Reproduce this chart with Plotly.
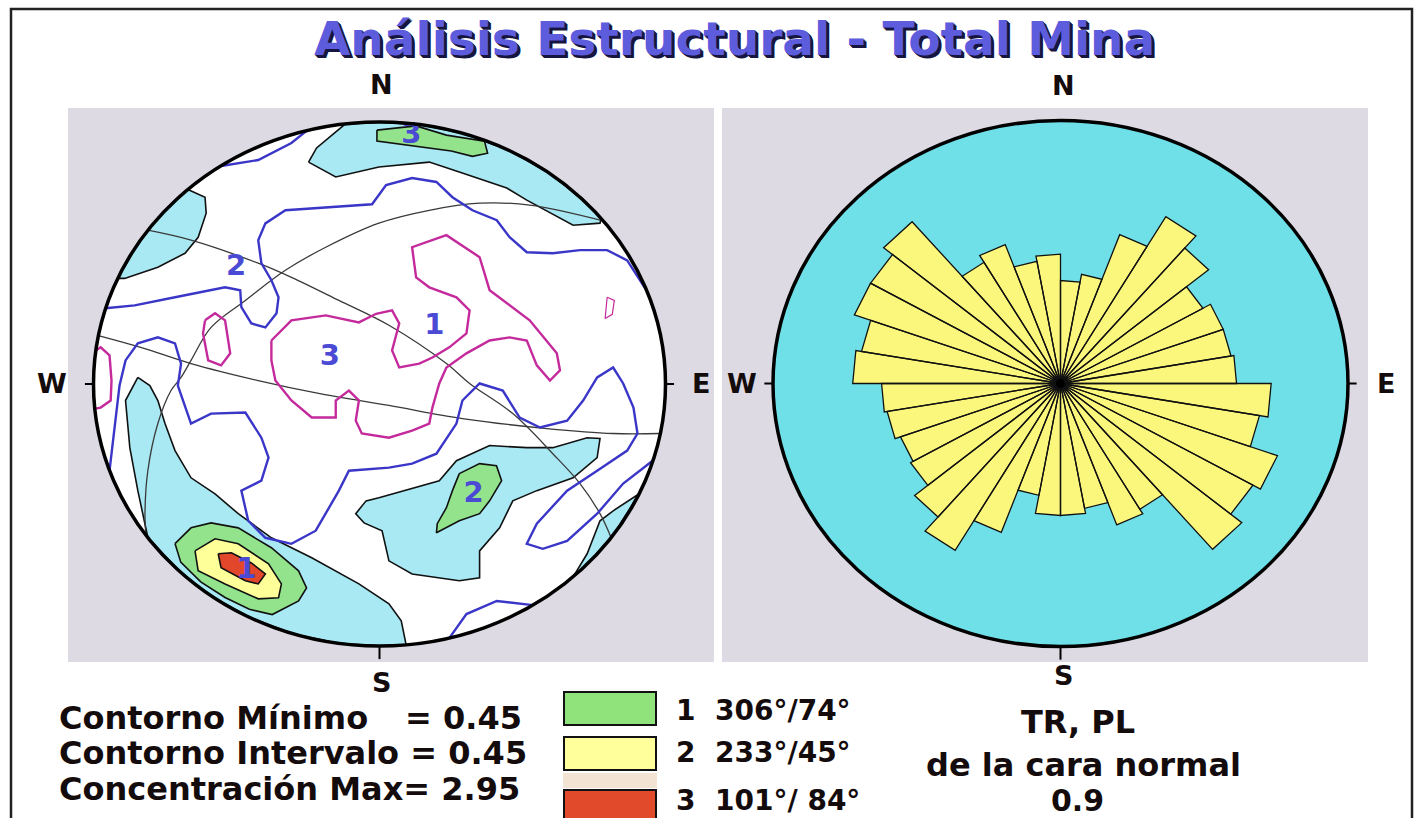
import math
import plotly.graph_objects as go

W, H = 1416, 818
FONT = "DejaVu Sans"

# ---------------- data ----------------
# Rose diagram: relative frequency of each 10-degree azimuth bin (outer ring = 1.0)
ROSE_BIN_START = list(range(0, 360, 10))
ROSE_FREQ = [0.39, 0.42, 0.60, 0.73, 0.67, 0.57, 0.60, 0.60, 0.61,
             0.73, 0.70, 0.80, 0.77, 0.82, 0.55, 0.57, 0.48, 0.50,
             0.50, 0.43, 0.60, 0.73, 0.66, 0.60, 0.59, 0.61, 0.62,
             0.72, 0.70, 0.76, 0.76, 0.80, 0.53, 0.56, 0.47, 0.49]

# Pole density contours on the net, in percent of the net radius (x east, y north)
CONTOUR_LOW = [  # lowest filled level
    [(-24.8, 84.7), (-22.0, 90.1), (-12.0, 99.2), (0, 100), (15, 98.9), (30, 95.4),
     (45, 89.3), (60, 80), (72, 69.4), (77.5, 63.2), (77.1, 61.4), (67.7, 60.6),
     (51.5, 70.2), (44.5, 74.8), (27.9, 80.9), (17.4, 84.7), (-0.2, 82.8), (-15.3, 79)],
    [(-67, 74.2), (-61, 71.3), (-60.6, 65.2), (-63.4, 56), (-68, 49.9), (-77.5, 44.6),
     (-89.1, 40.3), (-91.5, 40.3), (-85, 52.7), (-78, 62.6), (-72, 69.4)],
    [(-84.5, 2.5), (-80.3, -0.6), (-77.5, -6.3), (-75, -15.1), (-71.5, -25.4),
     (-65.9, -35.8), (-57.5, -41.9), (-49.4, -49.5), (-37.8, -58.7), (-23.7, -66.3),
     (-7.2, -76.3), (3.3, -83.9), (7.6, -90.4), (9.3, -99.5), (0, -100), (-15, -98.9),
     (-30, -95.4), (-45, -89.3), (-58, -81.5), (-70, -71.4), (-81, -58.6),
     (-84.5, -40.7), (-87.3, -24.3), (-88.8, -6.3)],
    [(-0.2, -43.4), (20.9, -36.9), (26.9, -29.3), (38.5, -23.5), (51.5, -24.3),
     (60.6, -24.3), (72.6, -20.5), (77.1, -20.8), (76.1, -28.1), (67.7, -35.8),
     (55, -40.7), (46.6, -44.6), (42, -54.9), (35, -63.7), (35, -74), (27.9, -75.1),
     (11.4, -72.5), (3.3, -67.5), (0.9, -56), (-5.4, -53), (-8.3, -49.5), (-4.7, -44.6)],
    [(90.8, -41.9), (81.7, -48.4), (77.1, -52.2), (72.6, -64.8), (67.7, -73.6),
     (75, -66.1), (82, -57.2)],
]
CONTOUR_MID = [
    [(-0.9, 96.9), (12.8, 98.5), (23.4, 95), (36.7, 92.7), (37.8, 88.1), (32.5, 86.9),
     (25.1, 88.9), (14.9, 90.4), (5.8, 92), (-0.9, 92.7)],
    [(27.9, -34.2), (35, -30.4), (40.9, -31.2), (42.7, -36.9), (38.5, -44.6),
     (35, -49.5), (27.9, -52.2), (19.9, -56.8), (20.2, -53.3), (23.4, -47.2), (25.5, -40.7)],
    [(-71.5, -60.9), (-65.9, -54.9), (-58.9, -53), (-49.4, -54.9), (-37.8, -62.5),
     (-28.3, -71.3), (-25.5, -77.8), (-28.3, -82.8), (-37.5, -88), (-45.5, -86),
     (-54, -81.5), (-62.5, -75.5), (-69.5, -68)],
]
CONTOUR_HIGH = [
    [(-64.5, -63.7), (-57.5, -59.1), (-49.4, -61), (-38.8, -68.6), (-34.3, -76.3),
     (-35.3, -81.6), (-42.4, -82), (-54, -76.3), (-63.4, -71.3)],
]
CONTOUR_MAX = [
    [(-56.4, -64.8), (-51.8, -64.4), (-44.8, -68.3), (-39.9, -72.5), (-42.4, -76.3),
     (-46.9, -75.1), (-55.4, -70.1)],
]
# open contour lines
BLUE_LINES = [
    [(-55.4, 83.2), (-42.4, 85.5), (-30.8, 92), (-25.5, 96.6)],
    [(-95.8, 28.9), (-85.6, 30), (-71.5, 33.1), (-54, 36.9), (-48.7, 35.8), (-48.3, 29.3),
     (-44.8, 23.1), (-39.9, 21.6), (-36, 27), (-35.3, 33.1), (-37.8, 39.6), (-41.3, 46.1),
     (-42.4, 54.9), (-39.9, 61.3), (-32.9, 66.3), (-18.8, 67.5), (-2.6, 68.6), (2.3, 75.9),
     (11.4, 78.6), (19.9, 77.1), (25.5, 71.3), (32.5, 66.3), (41, 62.5), (45.5, 56),
     (51.5, 50.3), (60.6, 49.9), (70.1, 51.1), (79.6, 51.1), (86.6, 47.2), (93.3, 35.8)],
    [(-94.4, -33.1), (-92.3, -14), (-90.9, -0.6), (-88.8, 9), (-84.5, 15.5), (-77.5, 17.8),
     (-71.5, 15.5), (-69.4, 7.8), (-70.5, -0.6), (-65.9, -15.1), (-58.9, -11.3),
     (-46.9, -10.9), (-41.3, -20.5), (-38.8, -28.1), (-41.3, -36.9), (-48.3, -40.7),
     (-45.9, -52.2), (-39.9, -58.7), (-30.8, -61), (-22.3, -56), (-14.2, -40.7),
     (-10.7, -33.1), (3.3, -31.9), (11.4, -30.4), (19.9, -26.6), (26.9, -15.1),
     (29, -6.3), (35, 0.2), (43.1, -2.5), (49, -12.8), (56.1, -16.6), (65.6, -14),
     (71.2, -6.3), (76.1, 2.5), (81.7, 6.3), (85.2, 0.2), (88.8, -9), (90.2, -18.9),
     (86.6, -25.4), (76.1, -33.1), (65.6, -40.7), (55, -53.3), (51.5, -61), (57.1, -62.9),
     (65.6, -59.9), (76.1, -49.5), (85.2, -38), (95.5, -29.3)],
    [(24.4, -97), (30.4, -87.8), (41, -82.8), (53.6, -84.4)],
]
MAGENTA_LINES = [
    [(-99.2, 12.8), (-97.5, 14), (-94.4, 10.9), (-93.7, 1.3), (-94, -6.3), (-97.5, -9),
     (-99.3, -9.4)],
    [(-61, 24.3), (-57.5, 27), (-54, 24.3), (-52.2, 11.7), (-55.4, 7.1), (-59.9, 9),
     (-61.7, 19.3), (-61, 24.3)],
    [(-37.8, 16.6), (-30.8, 24.3), (-18.8, 26.2), (-7.2, 23.5), (-1.2, 26.8), (4.4, 28.1),
     (6.9, 23.1), (4.4, 12.8), (6.9, 6.3), (13.9, 7.8), (18.5, 10.1), (24.4, 14),
     (30.4, 19.3), (31.5, 28.1), (26.9, 33.1), (17.4, 36.9), (12.8, 40.7), (11.4, 52.2),
     (23.4, 56.8), (35, 48.4), (38.5, 35.8), (52.5, 24.3), (62, 11.7), (63.1, 5.2),
     (59.6, 1.3), (55, 7.1), (51.5, 16.6), (45.5, 17.8), (38.5, 16.6), (30.4, 11.7),
     (23.4, 6.3), (20.9, 0.2), (18.5, -9), (17.4, -15.1), (11.4, -17.8), (3.3, -20.5),
     (-6.2, -18.9), (-8.3, -14), (-7.2, -6.3), (-10.7, -2.5), (-15.3, -6.3),
     (-15.3, -12.8), (-23.7, -12.8), (-30.8, -6.3), (-36.4, 1.3), (-37.8, 9), (-37.8, 16.6)],
    [(79.6, 33.1), (82.1, 31.9), (81.4, 26.6), (78.9, 25), (79.6, 33.1)],
]
# great circles of the principal sets
GREAT_CIRCLES = [
    [(-81, 58.7), (-65.9, 54.9), (-42.4, 46.1), (-30.8, 40.7), (-14.2, 31.9), (3.3, 22.4),
     (23.4, 7.8), (31.5, 0.2), (46.6, -11.3), (60.6, -26.6), (70.1, -38), (77.1, -49.5),
     (81, -58.7)],
    [(-98.3, 18.5), (-83.5, 14), (-65.9, 7.8), (-42.4, 1.3), (-21.3, -3.6), (3.3, -8.2),
     (29, -13.2), (58.5, -17), (81.7, -18.9), (98.2, -18.9)],
    [(78.2, 62.3), (52.5, 68.3), (35, 69), (17.4, 66.3), (-0.2, 61.4), (-18.8, 52.2),
     (-32.9, 43.4), (-46.9, 31.9), (-58.9, 21.6), (-65.9, 9), (-69.4, 2.5), (-72.9, -2.5),
     (-77.5, -15.1), (-81, -33.1), (-82, -49.5), (-81.7, -57.2)],
]
# contour / set labels on the net
NET_LABELS = [(11.1, 94.6, "3"), (-50.1, 44.2, "2"), (19.2, 22.0, "1"),
              (-17.4, 10.1, "3"), (32.9, -42.3, "2"), (-46.6, -71.3, "1")]

STATS = ["Contorno Mínimo", "Contorno Intervalo = 0.45", "Concentración Max= 2.95"]
SETS = ["1\u00a0\u00a0306°/74°", "2\u00a0\u00a0233°/45°", "3\u00a0\u00a0101°/ 84°"]
SET_COLORS = ["#8fe37a", "#ffff9c", "#e24a2c"]

# ---------------- colours ----------------
PANEL = "#dddae3"
LOW_C, MID_C, HIGH_C, MAX_C = "#a8e9f4", "#93e38d", "#ffff99", "#e2472b"
BLUE, MAGENTA, GC = "#3a36c8", "#c42a9c", "#3a3a3a"
LABEL_BLUE = "#4a4ad4"
ROSE_BG, ROSE_FILL = "#6fe0e8", "#fbf77c"

# panel geometry (pixels of the page)
L_PANEL = (68, 714, 108, 662)
R_PANEL = (722, 1368, 108, 662)
L_C, L_R = (379.5, 384.0), (286.0, 262.0)
R_C, R_R = (1060.5, 383.5), (287.5, 263.0)


def rng(panel, c, r):
    x0, x1, y0, y1 = panel
    return ([(x0 - c[0]) / r[0], (x1 - c[0]) / r[0]],
            [(c[1] - y1) / r[1], (c[1] - y0) / r[1]])


def dom(panel):
    x0, x1, y0, y1 = panel
    return [x0 / W, x1 / W], [1 - y1 / H, 1 - y0 / H]


def xs_ys(poly, close=False):
    pts = list(poly) + ([poly[0]] if close else [])
    return [p[0] / 100 for p in pts], [p[1] / 100 for p in pts]


fig = go.Figure()

# ---- left: density contours ----
for polys, col in [(CONTOUR_LOW, LOW_C), (CONTOUR_MID, MID_C),
                   (CONTOUR_HIGH, HIGH_C), (CONTOUR_MAX, MAX_C)]:
    for poly in polys:
        x, y = xs_ys(poly, close=True)
        fig.add_trace(go.Scatter(x=x, y=y, mode="lines", fill="toself", fillcolor=col,
                                 line=dict(color="#111111", width=1.6),
                                 hoverinfo="skip", xaxis="x", yaxis="y"))
for line in GREAT_CIRCLES:
    x, y = xs_ys(line)
    fig.add_trace(go.Scatter(x=x, y=y, mode="lines", line=dict(color=GC, width=1.3, shape="spline"),
                             hoverinfo="skip", xaxis="x", yaxis="y"))
for line in BLUE_LINES:
    x, y = xs_ys(line)
    fig.add_trace(go.Scatter(x=x, y=y, mode="lines", line=dict(color=BLUE, width=2.4),
                             hoverinfo="skip", xaxis="x", yaxis="y"))
for line in MAGENTA_LINES:
    x, y = xs_ys(line)
    fig.add_trace(go.Scatter(x=x, y=y, mode="lines",
                             line=dict(color=MAGENTA, width=2.4 if len(line) > 5 else 1.2),
                             hoverinfo="skip", xaxis="x", yaxis="y"))
fig.add_trace(go.Scatter(
    x=[l[0] / 100 for l in NET_LABELS], y=[l[1] / 100 for l in NET_LABELS],
    text=["<b>%s</b>" % l[2] for l in NET_LABELS], mode="text",
    textfont=dict(family=FONT, size=29, color=LABEL_BLUE), hoverinfo="skip",
    xaxis="x", yaxis="y"))

# ---- right: rose diagram ----
px, py = [], []
for a0, f in zip(ROSE_BIN_START, ROSE_FREQ):
    r = f / math.cos(math.radians(5))
    px.append(0.0)
    py.append(0.0)
    for a in (a0, a0 + 10):
        px.append(r * math.sin(math.radians(a)))
        py.append(r * math.cos(math.radians(a)))
    px += [0.0, None]
    py += [0.0, None]
fig.add_trace(go.Scatter(x=px, y=py, mode="lines", fill="toself", fillcolor=ROSE_FILL,
                         line=dict(color="#111111", width=1.3), hoverinfo="skip",
                         xaxis="x2", yaxis="y2"))
fig.add_trace(go.Scatter(x=[0], y=[0], mode="markers", marker=dict(color="black", size=9),
                         hoverinfo="skip", xaxis="x2", yaxis="y2"))

shapes = []
# net discs and rims
shapes.append(dict(type="circle", xref="x", yref="y", x0=-1, x1=1, y0=-1, y1=1,
                   fillcolor="white", line=dict(width=0), layer="below"))
shapes.append(dict(type="circle", xref="x", yref="y", x0=-1, x1=1, y0=-1, y1=1,
                   line=dict(color="black", width=3.5), layer="above"))
shapes.append(dict(type="circle", xref="x2", yref="y2", x0=-1, x1=1, y0=-1, y1=1,
                   fillcolor=ROSE_BG, line=dict(width=0), layer="below"))
shapes.append(dict(type="circle", xref="x2", yref="y2", x0=-1, x1=1, y0=-1, y1=1,
                   line=dict(color="black", width=3.5), layer="above"))
# cardinal ticks
for xr, yr in (("x", "y"), ("x2", "y2")):
    shapes += [
        dict(type="line", xref=xr, yref=yr, x0=1, x1=1.03, y0=0, y1=0,
             line=dict(color="black", width=2)),
        dict(type="line", xref=xr, yref=yr, x0=-1, x1=-1.03, y0=0, y1=0,
             line=dict(color="black", width=2)),
        dict(type="line", xref=xr, yref=yr, x0=0, x1=0, y0=-1, y1=-1.05,
             line=dict(color="black", width=2)),
    ]
# outer frame
shapes.append(dict(type="rect", xref="paper", yref="paper", x0=11 / W, x1=1412 / W,
                   y0=-0.05, y1=1 - 9 / H, line=dict(color="#222222", width=2.5)))
# set legend boxes
box_y = [(692, 725), (737, 770), (790, 822)]
shapes.append(dict(type="rect", xref="paper", yref="paper", x0=563 / W, x1=657 / W,
                   y0=1 - 788 / H, y1=1 - 773 / H, fillcolor="#f2e3d2", line=dict(width=0)))
for (y0, y1), col in zip(box_y, SET_COLORS):
    shapes.append(dict(type="rect", xref="paper", yref="paper", x0=564 / W, x1=656 / W,
                       y0=1 - y1 / H, y1=1 - y0 / H, fillcolor=col,
                       line=dict(color="#111111", width=2)))

ann = []


def text(x, y, s, size, color="#140c0c", xanchor="center", shadow=None):
    font = dict(family=FONT, size=size, color=color)
    if shadow:
        font["shadow"] = shadow
    ann.append(dict(x=x / W, y=1 - y / H, xref="paper", yref="paper", text=s,
                    showarrow=False, xanchor=xanchor, yanchor="middle", font=font))


# title with drop shadow
text(734, 38, "<b>Análisis Estructural - Total Mina</b>", 47, color="#5c5cdc",
     shadow="1px 1px 0px #15153f, 2px 2px 0px #15153f, 3px 3px 0px #15153f")

for (x, y, s) in [(381, 84, "N"), (381, 682, "S"), (52, 383, "W"), (701, 383, "E"),
                  (1063, 86, "N"), (1063, 675, "S"), (742, 383, "W"), (1386, 383, "E")]:
    text(x, y, "<b>%s</b>" % s, 27)

text(57, 718, "<b>%s</b>" % STATS[0], 32, xanchor="left")
text(524, 718, "<b>= 0.45</b>", 32, xanchor="right")
text(57, 753, "<b>%s</b>" % STATS[1], 32, xanchor="left")
text(57, 789, "<b>%s</b>" % STATS[2], 32, xanchor="left")

for s, y in zip(SETS, [710, 752, 800]):
    text(674, y, "<b>%s</b>" % s, 28, xanchor="left")

text(1078, 722, "<b>TR, PL</b>", 32)
text(1083, 765, "<b>de la cara normal</b>", 32)
text(1077, 800, "<b>0.9</b>", 30)

lx, ly = rng(L_PANEL, L_C, L_R)
rx, ry = rng(R_PANEL, R_C, R_R)
ldx, ldy = dom(L_PANEL)
rdx, rdy = dom(R_PANEL)
ax = dict(visible=False, showgrid=False, zeroline=False, fixedrange=True)

fig.update_layout(
    width=W, height=H, margin=dict(l=0, r=0, t=0, b=0),
    paper_bgcolor="white", plot_bgcolor=PANEL, showlegend=False,
    xaxis=dict(domain=ldx, range=lx, **ax), yaxis=dict(domain=ldy, range=ly, **ax),
    xaxis2=dict(domain=rdx, range=rx, anchor="y2", **ax),
    yaxis2=dict(domain=rdy, range=ry, anchor="x2", **ax),
    shapes=shapes, annotations=ann,
)

fig.write_html("out.html")
